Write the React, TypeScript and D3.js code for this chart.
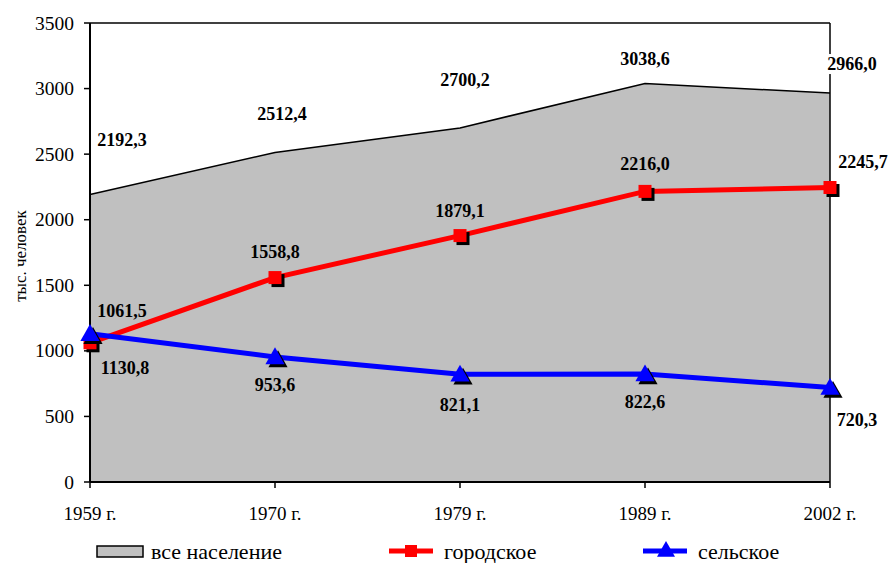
import React from 'react';
import * as d3 from 'd3';

const years = ['1959 г.', '1970 г.', '1979 г.', '1989 г.', '2002 г.'];
const total = [2192.3, 2512.4, 2700.2, 3038.6, 2966.0];
const urban = [1061.5, 1558.8, 1879.1, 2216.0, 2245.7];
const rural = [1130.8, 953.6, 821.1, 822.6, 720.3];
const yTicks = [0, 500, 1000, 1500, 2000, 2500, 3000, 3500];

// where each value label sits relative to its point (as in the original)
const totalLabelOff: [number, number][] = [[32, -54], [7, -39], [5, -48], [0, -25], [22, -29]];
const urbanLabelOff: [number, number][] = [[32, -32], [0, -26], [0, -25], [0, -27], [33, -25]];
const ruralLabelOff: [number, number][] = [[35, 34], [0, 28], [0, 31], [0, 28], [27, 32]];

const W = 891;
const H = 563;
const margin = { left: 90, right: 61, top: 23, bottom: 81 };
const font = 'Liberation Serif';

const fmt = (v: number) => v.toFixed(1).replace('.', ',');

const App: React.FC = () => {
  const x = d3.scalePoint<string>().domain(years).range([margin.left, W - margin.right]);
  const y = d3.scaleLinear().domain([0, 3500]).range([H - margin.bottom, margin.top]);
  const px = (i: number) => x(years[i]) as number;

  const area = d3.area<number>().x((_, i) => px(i)).y0(y(0)).y1(d => y(d));
  const line = d3.line<number>().x((_, i) => px(i)).y(d => y(d));

  const x0 = margin.left;
  const x1 = W - margin.right;
  const y0 = y(0);
  const yTop = y(3500);

  const tri = (cx: number, cy: number, s: number) =>
    `M${cx},${cy - s * 0.6} L${cx + s * 0.6},${cy + s * 0.45} L${cx - s * 0.6},${cy + s * 0.45} Z`;

  const label = (v: number, i: number, off: [number, number], key: string, bg = false) => (
    <g key={key}>
      {bg && <rect x={px(i) + off[0] - 26} y={y(v) + off[1] - 10} width={52} height={20} fill="#fff" />}
      <text x={px(i) + off[0]} y={y(v) + off[1]} textAnchor="middle" dominantBaseline="central"
        fontFamily={font} fontWeight="bold" fontSize={18}>{fmt(v)}</text>
    </g>
  );

  const legY = 551;

  return (
    <svg width={W} height={H} style={{ position: 'absolute', left: 0, top: 0 }}>
      <rect width={W} height={H} fill="#fff" />
      <path d={area(total) ?? ''} fill="#c0c0c0" />
      <path d={line(total) ?? ''} fill="none" stroke="#000" strokeWidth={1.5} />
      {/* frame */}
      <line x1={x0} x2={x1} y1={yTop} y2={yTop} stroke="#000" strokeWidth={1.5} />
      <line x1={x1} x2={x1} y1={yTop} y2={y0} stroke="#000" strokeWidth={1.5} />
      <line x1={x0} x2={x0} y1={yTop} y2={y0} stroke="#000" strokeWidth={2} />
      <line x1={x0} x2={x1} y1={y0} y2={y0} stroke="#000" strokeWidth={2} />
      {yTicks.map(t => (
        <g key={t}>
          <line x1={x0 - 6} x2={x0} y1={y(t)} y2={y(t)} stroke="#000" strokeWidth={1.5} />
          <text x={x0 - 16} y={y(t)} textAnchor="end" dominantBaseline="central" fontFamily={font} fontSize={19.5}>{t}</text>
        </g>
      ))}
      {years.map((yr, i) => (
        <g key={yr}>
          <line x1={px(i)} x2={px(i)} y1={y0} y2={y0 + 6} stroke="#000" strokeWidth={1.5} />
          <text x={px(i)} y={y0 + 31} textAnchor="middle" dominantBaseline="central" fontFamily={font} fontSize={19}>{yr}</text>
        </g>
      ))}
      <text transform="translate(20,256) rotate(-90)" textAnchor="middle" dominantBaseline="central"
        fontFamily={font} fontSize={17}>тыс. человек</text>

      {/* urban */}
      <path d={line(urban) ?? ''} fill="none" stroke="#ff0000" strokeWidth={5} />
      {urban.map((v, i) => (
        <g key={'u' + i}>
          <rect x={px(i) - 6.5 + 3} y={y(v) - 6.5 + 3} width={13} height={13} fill="#000" />
          <rect x={px(i) - 6.5} y={y(v) - 6.5} width={13} height={13} fill="#ff0000" />
        </g>
      ))}
      {/* rural */}
      <path d={line(rural) ?? ''} fill="none" stroke="#0000ff" strokeWidth={5} />
      {rural.map((v, i) => (
        <g key={'r' + i}>
          <path d={tri(px(i) + 3, y(v) + 3, 16)} fill="#000" />
          <path d={tri(px(i), y(v), 16)} fill="#0000ff" />
        </g>
      ))}

      {total.map((v, i) => label(v, i, totalLabelOff[i], 't' + i, i === total.length - 1))}
      {urban.map((v, i) => label(v, i, urbanLabelOff[i], 'ul' + i))}
      {rural.map((v, i) => label(v, i, ruralLabelOff[i], 'rl' + i))}

      {/* legend */}
      <rect x={97} y={546} width={46} height={11} fill="#c0c0c0" stroke="#000" strokeWidth={1.5} />
      <text x={151} y={legY} dominantBaseline="central" fontFamily={font} fontSize={22}>все население</text>
      <line x1={389} x2={433} y1={legY} y2={legY} stroke="#ff0000" strokeWidth={5} />
      <rect x={405} y={545} width={12} height={12} fill="#ff0000" />
      <text x={444} y={legY} dominantBaseline="central" fontFamily={font} fontSize={22}>городское</text>
      <line x1={643} x2={687} y1={legY} y2={legY} stroke="#0000ff" strokeWidth={5} />
      <path d={tri(666, 550, 15)} fill="#0000ff" />
      <text x={698} y={legY} dominantBaseline="central" fontFamily={font} fontSize={22}>сельское</text>
    </svg>
  );
};

export default App;
